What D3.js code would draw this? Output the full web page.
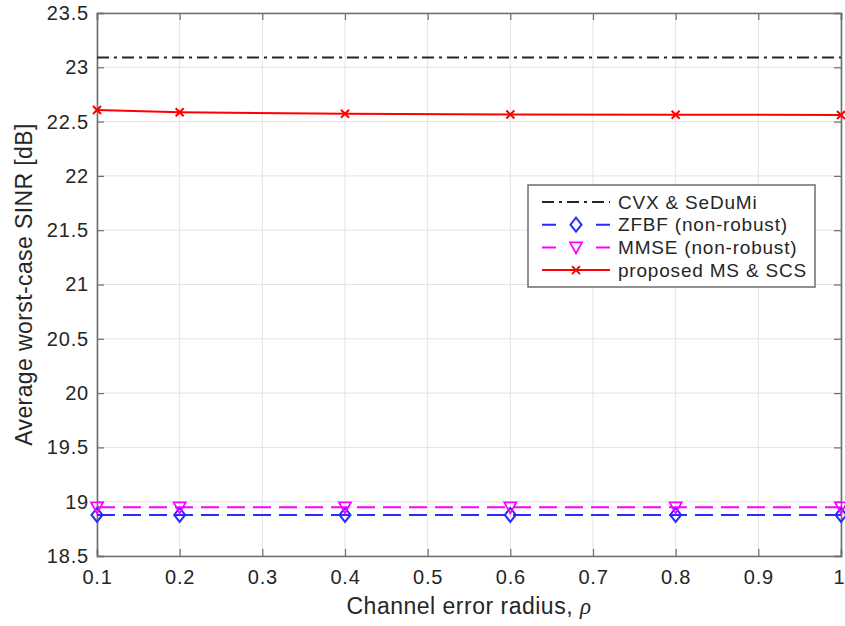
<!DOCTYPE html>
<html>
<head>
<meta charset="utf-8">
<script src="https://cdn.jsdelivr.net/npm/d3@7"></script>
<style>
  body { margin: 0; background: #fff; }
  text { font-family: "Liberation Sans", Arial, sans-serif; fill: #262626; }
</style>
</head>
<body>
<svg id="chart" width="845" height="626"></svg>
<script>
// chart data
const rho = [0.1, 0.2, 0.4, 0.6, 0.8, 1.0];
const cvx = [23.09, 23.09, 23.09, 23.09, 23.09, 23.09];
const zfbf = [18.878, 18.878, 18.878, 18.878, 18.878, 18.878];
const mmse = [18.948, 18.948, 18.948, 18.948, 18.948, 18.948];
const proposed = [22.607, 22.586, 22.572, 22.565, 22.563, 22.561];

const xTicks = [0.1, 0.2, 0.3, 0.4, 0.5, 0.6, 0.7, 0.8, 0.9, 1];
const yTicks = [18.5, 19, 19.5, 20, 20.5, 21, 21.5, 22, 22.5, 23, 23.5];
const legendNames = ["CVX & SeDuMi", "ZFBF (non-robust)", "MMSE (non-robust)", "proposed MS & SCS"];

const width = 845, height = 626;
const margin = { left: 97, top: 13, right: 4, bottom: 70 };
const pw = width - margin.left - margin.right;
const ph = height - margin.top - margin.bottom;

const svg = d3.select("#chart");
const g = svg.append("g").attr("transform", `translate(${margin.left},${margin.top})`);

const x = d3.scaleLinear().domain([0.1, 1]).range([0, pw]);
const y = d3.scaleLinear().domain([18.5, 23.5]).range([ph, 0]);

// grid
g.append("g").selectAll("line").data(xTicks).enter().append("line")
  .attr("x1", d => x(d)).attr("x2", d => x(d))
  .attr("y1", 0).attr("y2", ph)
  .attr("stroke", "#e3e3e3").attr("stroke-width", 1);
g.append("g").selectAll("line").data(yTicks).enter().append("line")
  .attr("y1", d => y(d)).attr("y2", d => y(d))
  .attr("x1", 0).attr("x2", pw)
  .attr("stroke", "#e3e3e3").attr("stroke-width", 1);

// axes (ticks inward, box on)
const axisColor = "#6e6e6e";
const fmt = d => String(d);
const xAxis = g.append("g").attr("transform", `translate(0,${ph})`)
  .call(d3.axisBottom(x).tickValues(xTicks).tickFormat(fmt).tickSize(-7).tickPadding(14));
const xAxisTop = g.append("g")
  .call(d3.axisTop(x).tickValues(xTicks).tickFormat("").tickSize(-7));
const yAxis = g.append("g")
  .call(d3.axisLeft(y).tickValues(yTicks).tickFormat(fmt).tickSize(-7).tickPadding(8));
const yAxisRight = g.append("g").attr("transform", `translate(${pw},0)`)
  .call(d3.axisRight(y).tickValues(yTicks).tickFormat("").tickSize(-7));

[xAxis, xAxisTop, yAxis, yAxisRight].forEach(a => {
  a.select(".domain").attr("stroke", axisColor).attr("stroke-width", 1.6);
  a.selectAll(".tick line").attr("stroke", axisColor).attr("stroke-width", 1.2);
  a.selectAll("text").attr("font-size", 20).attr("fill", "#333")
    .attr("letter-spacing", 0.8)
    .style("font-family", "'Liberation Sans', Arial, sans-serif");
});
// last x label sits on the right edge, as in the picture
xAxis.selectAll(".tick text").filter(d => d === 1).attr("text-anchor", "end").attr("dx", 4);

// series
const series = [
  { name: legendNames[0], values: cvx, color: "#262626", dash: "12,5,3,5", marker: null },
  { name: legendNames[1], values: zfbf, color: "#2a2aff", dash: "18,8", marker: "diamond" },
  { name: legendNames[2], values: mmse, color: "#ff00ff", dash: "18,8", marker: "tri" },
  { name: legendNames[3], values: proposed, color: "#ff0000", dash: null, marker: "cross" }
];

const line = d3.line().x(d => x(d[0])).y(d => y(d[1]));

function drawMarker(sel, type, color) {
  if (type === "diamond") {
    sel.append("path").attr("d", "M0,-7 L5.5,0 L0,7 L-5.5,0 Z")
      .attr("fill", "none").attr("stroke", color).attr("stroke-width", 2);
  } else if (type === "tri") {
    sel.append("path").attr("d", "M-6,-5 L6,-5 L0,6 Z")
      .attr("fill", "none").attr("stroke", color).attr("stroke-width", 1.8);
  } else if (type === "cross") {
    sel.append("path").attr("d", "M-4,-4 L4,4 M-4,4 L4,-4")
      .attr("fill", "none").attr("stroke", color).attr("stroke-width", 2);
  }
}

series.forEach(s => {
  const pts = rho.map((r, i) => [r, s.values[i]]);
  g.append("path").datum(pts)
    .attr("d", line)
    .attr("fill", "none")
    .attr("stroke", s.color)
    .attr("stroke-width", 2)
    .attr("stroke-dasharray", s.dash);
  if (s.marker) {
    pts.forEach(p => {
      const m = g.append("g").attr("transform", `translate(${x(p[0])},${y(p[1])})`);
      drawMarker(m, s.marker, s.color);
    });
  }
});

// legend
const lg = svg.append("g").attr("transform", "translate(528,185)");
lg.append("rect").attr("width", 287).attr("height", 102)
  .attr("fill", "#fff").attr("stroke", "#6e6e6e").attr("stroke-width", 1.5);
series.forEach((s, i) => {
  const yy = 17 + i * 22.7;
  lg.append("line").attr("x1", 14).attr("x2", 82).attr("y1", yy).attr("y2", yy)
    .attr("stroke", s.color).attr("stroke-width", 2)
    .attr("stroke-dasharray", s.dash ? (s.marker ? "14,40" : "12,5,3,5") : null);
  if (s.marker) {
    const m = lg.append("g").attr("transform", `translate(48,${yy})`);
    drawMarker(m, s.marker, s.color);
  }
  lg.append("text").attr("x", 90).attr("y", yy).attr("dy", "0.35em")
    .attr("font-size", 19).attr("letter-spacing", 0.8).text(s.name);
});

// axis titles
svg.append("text")
  .attr("x", margin.left + pw / 2).attr("y", 606).attr("dy", "0.35em")
  .attr("text-anchor", "middle").attr("font-size", 23).attr("letter-spacing", 0.5)
  .html('Channel error radius, <tspan font-family="Liberation Serif, serif" font-style="italic">ρ</tspan>');
svg.append("text")
  .attr("transform", `translate(24,${margin.top + ph / 2}) rotate(-90)`)
  .attr("dy", "0.35em")
  .attr("text-anchor", "middle").attr("font-size", 23).attr("letter-spacing", 0.4)
  .text("Average worst-case SINR [dB]");
</script>
</body>
</html>
